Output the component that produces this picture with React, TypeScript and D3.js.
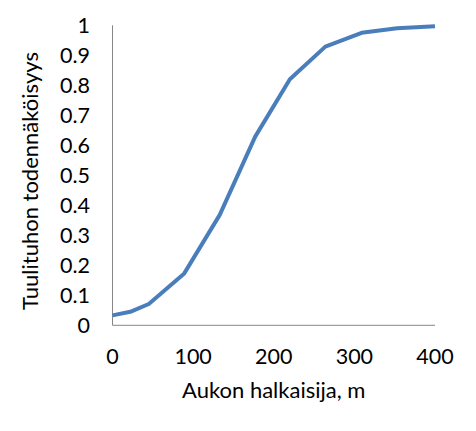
import * as d3 from "d3";

const gapDiameter = [0, 22, 45, 89, 133, 177, 220, 264, 309, 353, 400];
const windDamageProb = [0.033, 0.045, 0.071, 0.173, 0.368, 0.629, 0.82, 0.929, 0.975, 0.99, 0.997];
const xTicks = [0, 100, 200, 300, 400];
const yTicks = [0, 0.1, 0.2, 0.3, 0.4, 0.5, 0.6, 0.7, 0.8, 0.9, 1];
const xTitle = "Aukon halkaisija, m";
const yTitle = "Tuulituhon todennäköisyys";

const W = 476;
const H = 431;
const FONT = "Lato, 'Open Sans', sans-serif";

export default function App() {
  const x = d3.scaleLinear().domain([0, 400]).range([112.5, 435]);
  const y = d3.scaleLinear().domain([0, 1]).range([325.3, 25.3]);
  const line = d3
    .line<number>()
    .x((_, i) => x(gapDiameter[i]))
    .y((d) => y(d));

  return (
    <svg
      width={W}
      height={H}
      style={{ position: "absolute", left: 0, top: 0, background: "#fff" }}
      fontFamily={FONT}
    >
      <line x1={x(0)} x2={x(0)} y1={y(1)} y2={y(0)} stroke="#868686" strokeWidth={1} />
      <line x1={x(0)} x2={x(400)} y1={y(0)} y2={y(0)} stroke="#868686" strokeWidth={1} />
      {yTicks.map((t) => (
        <text key={t} x={90} y={y(t)} dy="0.36em" textAnchor="end" fontSize={21.5} fill="#000">
          {String(t)}
        </text>
      ))}
      {xTicks.map((t) => (
        <text key={t} x={x(t)} y={364} textAnchor="middle" fontSize={21.5} fill="#000">
          {String(t)}
        </text>
      ))}
      <path
        d={line(windDamageProb) ?? ""}
        fill="none"
        stroke="#4A7EBB"
        strokeWidth={4}
        strokeLinejoin="round"
      />
      <text x={(x(0) + x(400)) / 2} y={398} textAnchor="middle" fontSize={22} fill="#000">
        {xTitle}
      </text>
      <text
        transform={`translate(38,181) rotate(-90)`}
        textAnchor="middle"
        fontSize={22}
        fill="#000"
      >
        {yTitle}
      </text>
    </svg>
  );
}
